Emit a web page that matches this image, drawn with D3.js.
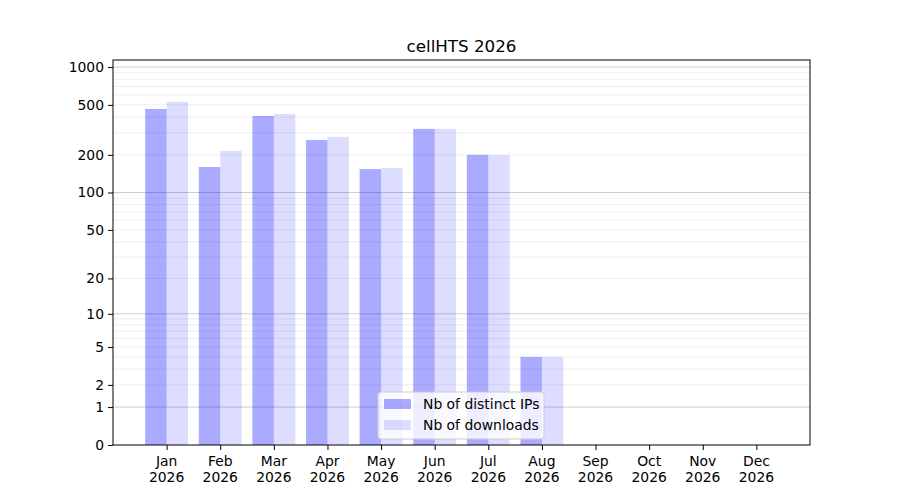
<!DOCTYPE html>
<html><head><meta charset="utf-8">
<script src="https://cdn.jsdelivr.net/npm/d3@7"></script>
<style>body{margin:0;background:#fff;} text{font-family:"DejaVu Sans",sans-serif;}</style>
</head><body>
<svg id="c" width="900" height="500"></svg>
<script>
const months = ["Jan","Feb","Mar","Apr","May","Jun","Jul","Aug","Sep","Oct","Nov","Dec"];
const year = "2026";
const distinctIPs = [464, 160, 408, 263, 154, 322, 200, 4, 0, 0, 0, 0];
const downloads   = [528, 215, 423, 278, 157, 322, 199, 4, 0, 0, 0, 0];
const yTicks = [0, 1, 2, 5, 10, 20, 50, 100, 200, 500, 1000];
const majorGrid = [1, 10, 100, 1000];
const minorGrid = [2,3,4,5,6,7,8,9,20,30,40,50,60,70,80,90,200,300,400,500,600,700,800,900];
const seriesNames = ["Nb of distinct IPs", "Nb of downloads"];
const title = "cellHTS 2026";

const L=113, R=810, T=60, B=445;
const FS = "13.9px";
const svg = d3.select("#c");
const x = d3.scaleLinear().domain([0,13]).range([L,R]);
const y = d3.scaleSymlog().constant(1).domain([0,1137]).range([B,T]);
const bw = 0.4;

// grid
svg.append("g").selectAll("line").data(minorGrid).join("line")
  .attr("x1",L).attr("x2",R).attr("y1",d=>y(d)).attr("y2",d=>y(d))
  .attr("stroke","#000").attr("stroke-opacity",0.07).attr("stroke-width",1);
svg.append("g").selectAll("line").data(majorGrid).join("line")
  .attr("x1",L).attr("x2",R).attr("y1",d=>y(d)).attr("y2",d=>y(d))
  .attr("stroke","#000").attr("stroke-opacity",0.2).attr("stroke-width",1);

// bars
svg.append("g").selectAll("rect").data(distinctIPs).join("rect")
  .attr("x",(d,i)=>x(i+1-bw)).attr("width",x(bw)-x(0))
  .attr("y",d=>y(d)).attr("height",d=>y(0)-y(d))
  .attr("fill","#0000ff").attr("fill-opacity",0.333);
svg.append("g").selectAll("rect").data(downloads).join("rect")
  .attr("x",(d,i)=>x(i+1)).attr("width",x(bw)-x(0))
  .attr("y",d=>y(d)).attr("height",d=>y(0)-y(d))
  .attr("fill","#0000ff").attr("fill-opacity",0.133);

// frame
svg.append("rect").attr("x",L).attr("y",T).attr("width",R-L).attr("height",B-T)
  .attr("fill","none").attr("stroke","#000").attr("stroke-width",1);

// y axis
const ya = svg.append("g").attr("transform",`translate(${L},0)`)
  .call(d3.axisLeft(y).tickValues(yTicks).tickFormat(d3.format("d")).tickSize(5).tickPadding(4));
ya.select(".domain").remove();
ya.selectAll("text").attr("font-size",FS).attr("fill","#000").style("font-family","DejaVu Sans");
ya.selectAll("line").attr("stroke","#000");

// x axis
const xa = svg.append("g").attr("transform",`translate(0,${B})`)
  .call(d3.axisBottom(x).tickValues(d3.range(1,13)).tickFormat("").tickSize(5));
xa.select(".domain").remove();
xa.selectAll("line").attr("stroke","#000");
const xl = svg.append("g").selectAll("text").data(months).join("text")
  .attr("x",(d,i)=>x(i+1)).attr("y",B+21).attr("text-anchor","middle")
  .attr("font-size",FS).attr("fill","#000");
xl.append("tspan").attr("x",(d,i)=>x(i+1)).text(d=>d);
xl.append("tspan").attr("x",(d,i)=>x(i+1)).attr("dy",16).text(year);

// title
svg.append("text").attr("x",(L+R)/2).attr("y",T-8).attr("text-anchor","middle")
  .attr("font-size","16.7px").attr("fill","#000").text(title);

// legend
const lg = svg.append("g");
lg.append("rect").attr("x",378).attr("y",392).attr("width",166).attr("height",47).attr("rx",3)
  .attr("fill","#fff").attr("fill-opacity",0.8).attr("stroke","#cccccc");
const ops=[0.333,0.133];
seriesNames.forEach((n,i)=>{
  lg.append("rect").attr("x",384).attr("y",399+i*21).attr("width",27).attr("height",10)
    .attr("fill","#0000ff").attr("fill-opacity",ops[i]);
  lg.append("text").attr("x",423).attr("y",409+i*21).attr("font-size",FS).attr("fill","#000").text(n);
});
</script>
</body></html>
